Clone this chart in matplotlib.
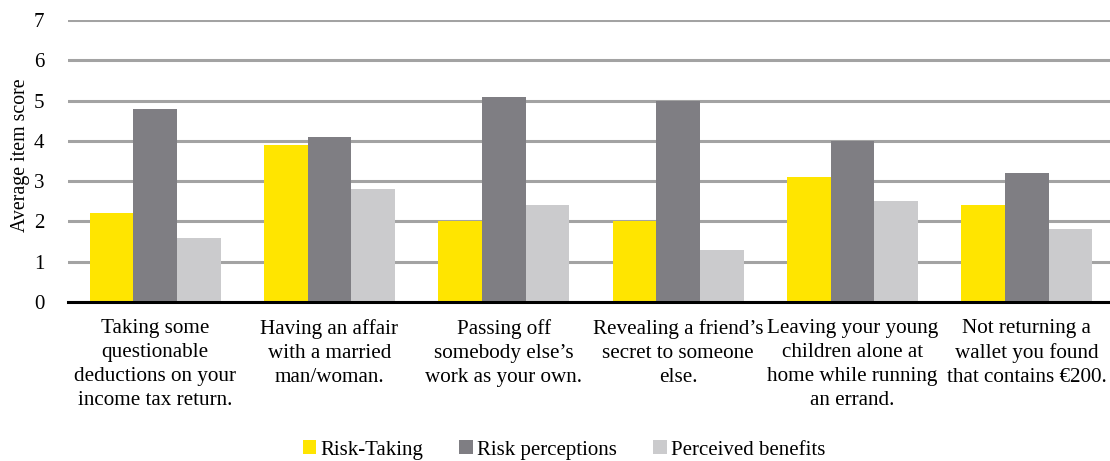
import matplotlib
matplotlib.use("Agg")
import matplotlib.pyplot as plt
import numpy as np
from matplotlib.patches import Patch

plt.rcParams['font.family'] = ['Liberation Serif', 'DejaVu Serif']

categories = [
    "Taking some\nquestionable\ndeductions on your\nincome tax return.",
    "Having an affair\nwith a married\nman/woman.",
    "Passing off\nsomebody else\u2019s\nwork as your own.",
    "Revealing a friend\u2019s\nsecret to someone\nelse.",
    "Leaving your young\nchildren alone at\nhome while running\nan errand.",
    "Not returning a\nwallet you found\nthat contains \u20ac200.",
]
series_names = ["Risk-Taking", "Risk perceptions", "Perceived benefits"]
risk_taking = [2.2, 3.9, 2.0, 2.0, 3.1, 2.4]
risk_perceptions = [4.8, 4.1, 5.1, 5.0, 4.0, 3.2]
perceived_benefits = [1.6, 2.8, 2.4, 1.3, 2.5, 1.8]
y_ticks = [0, 1, 2, 3, 4, 5, 6, 7]

colors = ["#FFE500", "#7F7E83", "#CBCBCD"]

fig = plt.figure(figsize=(11.10, 4.61), dpi=100)
ax = fig.add_axes([68 / 1110, 1 - 302 / 461, 1 - 68 / 1110, (302 - 20) / 461])

x = np.arange(len(categories))
w = 0.25
for i, (vals, name) in enumerate(zip([risk_taking, risk_perceptions, perceived_benefits], series_names)):
    ax.bar(x + (i - 1) * w, vals, width=w, color=colors[i], label=name, zorder=3)

ax.set_ylim(0, 7)
ax.set_xlim(-0.5, 5.5 - 4 / 174.4)
ax.set_yticks(y_ticks)
ax.yaxis.grid(True, color="#A3A3A3", linewidth=2.2, zorder=0)
ax.set_axisbelow(True)
for s in ["top", "right", "left"]:
    ax.spines[s].set_visible(False)
ax.spines["bottom"].set_color("black")
ax.spines["bottom"].set_linewidth(2.2)
ax.spines["bottom"].set_zorder(4)
ax.tick_params(axis="y", length=0, labelsize=15, pad=17)
ax.tick_params(axis="x", length=0, labelsize=15.2, pad=12)
ax.set_xticks(x)
ax.set_xticklabels(categories, linespacing=1.36)
ax.set_ylabel("Average item score", fontsize=14.3)
ax.yaxis.set_label_coords(-0.036, 0.52)

handles = [Patch(facecolor=c, label=n) for c, n in zip(colors, series_names)]
fig.legend(handles=handles, loc="center", bbox_to_anchor=(0.508, 1 - 450 / 461), ncol=3,
           frameon=False, fontsize=15, handlelength=0.64, handleheight=0.64,
           handletextpad=0.2, columnspacing=1.75)

fig.savefig("out.png", dpi=100)
